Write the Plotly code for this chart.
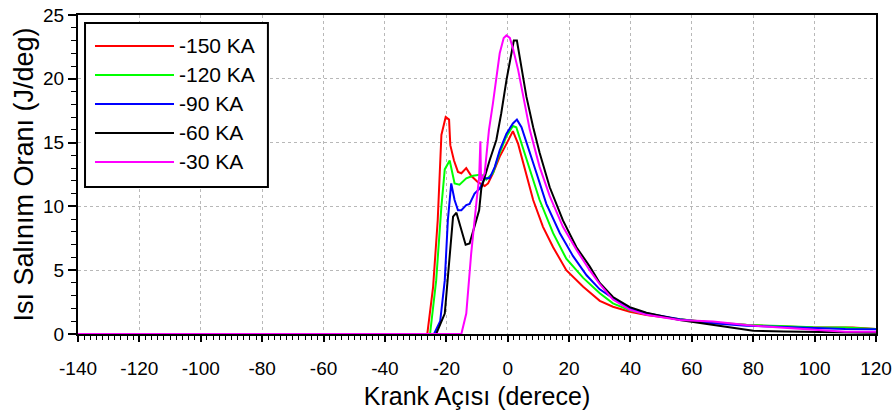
import plotly.graph_objects as go

# ---- data ----
series_names = ["-150 KA", "-120 KA", "-90 KA", "-60 KA", "-30 KA"]
series_colors = ["#FF0000", "#00FF00", "#0000FF", "#000000", "#FF00FF"]

x_150 = [-140, -26.2, -24.3, -22.8, -21.6, -20.2, -19.1, -18.7, -17.5, -16.2, -15.1, -13.5, -11.9, -9.7, -7.5,
         -6.4, -4.8, -2.6, -0.4, 1.7, 3.4, 5.5, 8.3, 11.5, 14.8, 19.1, 24.6, 30, 34.3, 39.8, 45.2, 56,
         66.9, 77.8, 88.7, 99.5, 112.5, 120]
y_150 = [0, 0, 3.7, 8.9, 15.6, 17.0, 16.8, 14.8, 13.6, 12.7, 12.6, 13.0, 12.4, 11.9, 11.6,
         11.8, 12.6, 13.9, 14.9, 15.9, 14.9, 13.1, 10.5, 8.4, 6.8, 5.0, 3.7, 2.6, 2.14, 1.75, 1.49, 1.15,
         0.89, 0.7, 0.62, 0.5, 0.5, 0.4]

x_120 = [-140, -25.3, -23.3, -21.6, -20.5, -18.9, -17.3, -15.7, -13.5, -11.3, -8.6, -7.0, -4.8, -2.6, -0.4,
         1.7, 2.8, 4.5, 7.2, 10.4, 14.8, 19.1, 24.6, 30, 34.3, 39.8, 45.2, 56, 66.9, 77.8, 88.7, 99.5,
         110, 120]
y_120 = [0, 0, 4.2, 10.0, 12.9, 13.6, 11.8, 11.7, 12.2, 12.4, 12.5, 12.1, 12.6, 14.2, 15.5,
         16.3, 16.2, 14.9, 12.9, 10.5, 7.9, 5.9, 4.4, 3.2, 2.4, 1.85, 1.55, 1.15, 0.9, 0.72, 0.62, 0.52,
         0.5, 0.4]

x_90 = [-140, -24.0, -22.0, -20.5, -19.5, -18.4, -17.3, -16.2, -15.1, -13.5, -12.4, -10.8, -9.1, -7.5, -5.9,
        -4.2, -2.6, -0.4, 1.7, 3.0, 4.5, 6.6, 9.4, 12.6, 17, 21.3, 25.7, 30, 34.3, 39.8, 45.2, 56,
        66.9, 77.8, 88.7, 99.5, 110, 120]
y_90 = [0, 0, 1.0, 4.2, 8.9, 11.8, 10.5, 9.7, 9.7, 10.1, 10.2, 11.0, 11.4, 12.2, 12.2,
        13.1, 14.4, 15.7, 16.5, 16.8, 16.2, 14.7, 12.6, 10.2, 7.9, 6.1, 4.6, 3.5, 2.8, 2.0, 1.62, 1.15,
        0.85, 0.65, 0.57, 0.45, 0.4, 0.38]

x_60 = [-140, -23.3, -20.5, -19.5, -18.9, -17.8, -16.7, -15.1, -13.7, -12.4, -11.1, -9.3, -8.6, -7.5, -5.9,
        -3.7, -2.1, -0.4, 1.2, 2.0, 3.0, 4.5, 6.1, 8.3, 10.4, 13.7, 18, 22.4, 26.7, 30, 34.3, 39.8,
        45.2, 56, 66.9, 72.4, 80, 90, 100, 110, 120]
y_60 = [0, 0, 1.6, 4.2, 6.3, 9.2, 9.5, 8.2, 7.0, 7.1, 8.2, 9.7, 11.4, 12.3, 13.6,
        15.2, 17.3, 19.9, 22.0, 23.0, 23.0, 20.9, 18.6, 16.2, 14.2, 11.5, 8.9, 6.8, 5.3, 4.0, 2.9, 2.1,
        1.67, 1.1, 0.7, 0.5, 0.25, 0.2, 0.15, 0.12, 0.1]

x_30 = [-140, -15.1, -13.5, -11.9, -10.2, -9.3, -8.9, -8.7, -7.5, -6.1, -4.8, -3.7, -2.6, -1.3, -0.4,
        0.7, 1.7, 3.4, 5.0, 7.2, 10.4, 13.7, 18, 22.4, 26.7, 30, 34.3, 39.8, 45.2, 56, 66.9, 77.8,
        88.7, 99.5, 110, 120]
y_30 = [0, 0, 1.6, 6.3, 10.3, 12.3, 15.1, 12.0, 12.6, 16.0, 18.1, 20.2, 22.0, 23.2, 23.4,
        23.2, 22.4, 20.7, 18.6, 16.0, 13.1, 10.8, 8.4, 6.6, 5.0, 3.9, 2.7, 1.9, 1.5, 1.1, 0.97, 0.7,
        0.5, 0.31, 0.18, 0.18]

x_series = [x_150, x_120, x_90, x_60, x_30]
y_series = [y_150, y_120, y_90, y_60, y_30]

x_tick_vals = [-140, -120, -100, -80, -60, -40, -20, 0, 20, 40, 60, 80, 100, 120]
x_tick_text = ["-140", "-120", "-100", "-80", "-60", "-40", "-20", "0", "20", "40", "60", "80", "100", "120"]
y_tick_vals = [0, 5, 10, 15, 20, 25]

FONT = "Liberation Sans, Arial, sans-serif"

fig = go.Figure()
for name, color, xs, ys in zip(series_names, series_colors, x_series, y_series):
    fig.add_trace(go.Scatter(x=xs, y=ys, mode="lines", name=name,
                             line=dict(color=color, width=2), showlegend=False))

# manual legend (box, sample lines, labels)
fig.add_shape(type="rect", xref="paper", yref="paper", x0=0.0088, x1=0.238, y0=0.461, y1=0.975,
              line=dict(color="black", width=2), fillcolor="white", layer="above")
for i, (name, color) in enumerate(zip(series_names, series_colors)):
    yy = 0.903 - i * 0.0909
    fig.add_shape(type="line", xref="paper", yref="paper", x0=0.0213, x1=0.1203, y0=yy, y1=yy,
                  line=dict(color=color, width=2), layer="above")
    fig.add_annotation(xref="paper", yref="paper", x=0.124, y=yy, text=name, showarrow=False,
                       xanchor="left", yanchor="middle", font=dict(family=FONT, size=21, color="black"))

axis_common = dict(showline=True, linecolor="black", linewidth=2, mirror=True,
                   ticks="outside", tickcolor="black", tickwidth=1.5, automargin=False,
                   showgrid=True, gridcolor="#b8b8b8", griddash="dot", gridwidth=1,
                   zeroline=False, tickfont=dict(family=FONT, size=19, color="black"))

fig.update_layout(
    width=895, height=410,
    margin=dict(l=78, r=19, t=15, b=76),
    plot_bgcolor="white", paper_bgcolor="white",
    font=dict(family=FONT, color="black"),
    xaxis=dict(range=[-140, 120], tickvals=x_tick_vals, ticktext=x_tick_text, ticklen=6,
               ticklabelstandoff=10,
               minor=dict(dtick=2, tick0=-140, ticks="outside", ticklen=4, tickcolor="black", tickwidth=1, showgrid=False),
               title=dict(text="Krank Açısı (derece)", font=dict(family=FONT, size=25), standoff=10),
               **axis_common),
    yaxis=dict(range=[0, 25], tickvals=y_tick_vals, ticklen=8,
               minor=dict(dtick=1, ticks="outside", ticklen=5, tickcolor="black", tickwidth=1, showgrid=False),
               title=dict(text="Isı Salınım Oranı (J/deg)", font=dict(family=FONT, size=27), standoff=2),
               **axis_common),
)

fig.write_html("out.html", config={"displayModeBar": False},
               post_script="document.body.style.margin='0px';")
